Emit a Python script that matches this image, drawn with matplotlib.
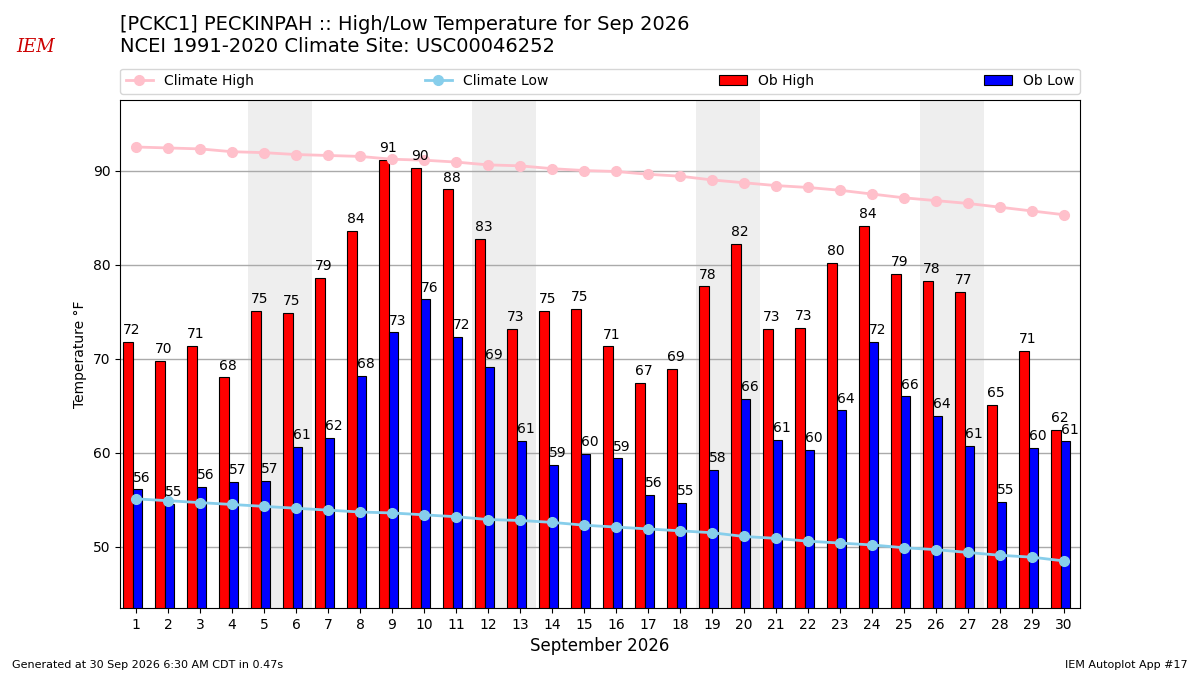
import matplotlib
matplotlib.use("Agg")
import matplotlib.pyplot as plt
import numpy as np

days = list(range(1, 31))
ob_high = [71.8, 69.8, 71.4, 68.0, 75.1, 74.9, 78.6, 83.6, 91.1, 90.3,
           88.0, 82.7, 73.2, 75.1, 75.3, 71.3, 67.4, 68.9, 77.7, 82.2,
           73.2, 73.3, 80.2, 84.1, 79.0, 78.3, 77.1, 65.1, 70.8, 62.4]
ob_low = [56.1, 54.6, 56.4, 56.9, 57.0, 60.6, 61.6, 68.2, 72.8, 76.3,
          72.3, 69.1, 61.3, 58.7, 59.9, 59.4, 55.5, 54.7, 58.2, 65.7,
          61.4, 60.3, 64.5, 71.8, 66.0, 63.9, 60.7, 54.8, 60.5, 61.2]
clim_high = [92.5, 92.4, 92.3, 92.0, 91.9, 91.7, 91.6, 91.5, 91.2, 91.1,
             90.9, 90.6, 90.5, 90.2, 90.0, 89.9, 89.6, 89.4, 89.0, 88.7,
             88.4, 88.2, 87.9, 87.5, 87.1, 86.8, 86.5, 86.1, 85.7, 85.3]
clim_low = [55.1, 54.9, 54.7, 54.5, 54.3, 54.1, 53.9, 53.7, 53.6, 53.4,
            53.2, 52.9, 52.8, 52.6, 52.3, 52.1, 51.9, 51.7, 51.5, 51.1,
            50.9, 50.6, 50.4, 50.2, 49.9, 49.7, 49.4, 49.1, 48.9, 48.5]
weekends = [(5, 6), (12, 13), (19, 20), (26, 27)]

x = np.array(days)
fig = plt.figure(figsize=(12, 6.75), dpi=100)
ax = fig.add_axes([0.1, 0.0993, 0.8, 0.7526])

for a, b in weekends:
    ax.axvspan(a - 0.5, b + 0.5, color="#EEEEEE", zorder=0, lw=0)

ax.plot(x, clim_high, color="pink", marker="o", ms=7, lw=2,
        label="Climate High", zorder=3)
ax.plot(x, clim_low, color="skyblue", marker="o", ms=7, lw=2,
        label="Climate Low", zorder=3)
ax.bar(x - 0.4, ob_high, width=0.3, align="edge", color="r",
       edgecolor="k", lw=0.8, label="Ob High", zorder=2)
ax.bar(x - 0.1, ob_low, width=0.3, align="edge", color="b",
       edgecolor="k", lw=0.8, label="Ob Low", zorder=2)

for xi, h, l in zip(x, ob_high, ob_low):
    ax.text(xi - 0.4, h + 0.5, f"{h:.0f}", ha="left", va="bottom",
            fontsize=10, zorder=4)
    ax.text(xi - 0.1, l + 0.5, f"{l:.0f}", ha="left", va="bottom",
            fontsize=10, zorder=4)

ax.set_xlim(0.5, 30.5)
ax.set_ylim(43.5, 97.5)
ax.set_xticks(days)
ax.set_yticks([50, 60, 70, 80, 90])
ax.tick_params(labelsize=10)
ax.yaxis.grid(True, color="#aaaaaa", lw=1)
ax.set_axisbelow(True)
ax.set_ylabel("Temperature °F", fontsize=10)
ax.set_xlabel("September 2026", fontsize=12)

ax.legend(loc="lower left", bbox_to_anchor=(-0.0065, 1.0, 1.013, 0.05), ncol=4,
          mode="expand", fontsize=10, borderaxespad=0.45)

fig.text(0.1, 0.978, "[PCKC1] PECKINPAH :: High/Low Temperature for Sep 2026\n"
         "NCEI 1991-2020 Climate Site: USC00046252",
         ha="left", va="top", fontsize=14)
fig.text(0.03, 0.93, "IEM", color="#cc0000", fontsize=13, style="italic",
         family="DejaVu Serif", ha="center", va="center")
fig.text(0.01, 0.007, "Generated at 30 Sep 2026 6:30 AM CDT in 0.47s",
         fontsize=8, ha="left", va="bottom")
fig.text(0.99, 0.007, "IEM Autoplot App #17", fontsize=8, ha="right",
         va="bottom")

fig.savefig("out.png", dpi=100)
